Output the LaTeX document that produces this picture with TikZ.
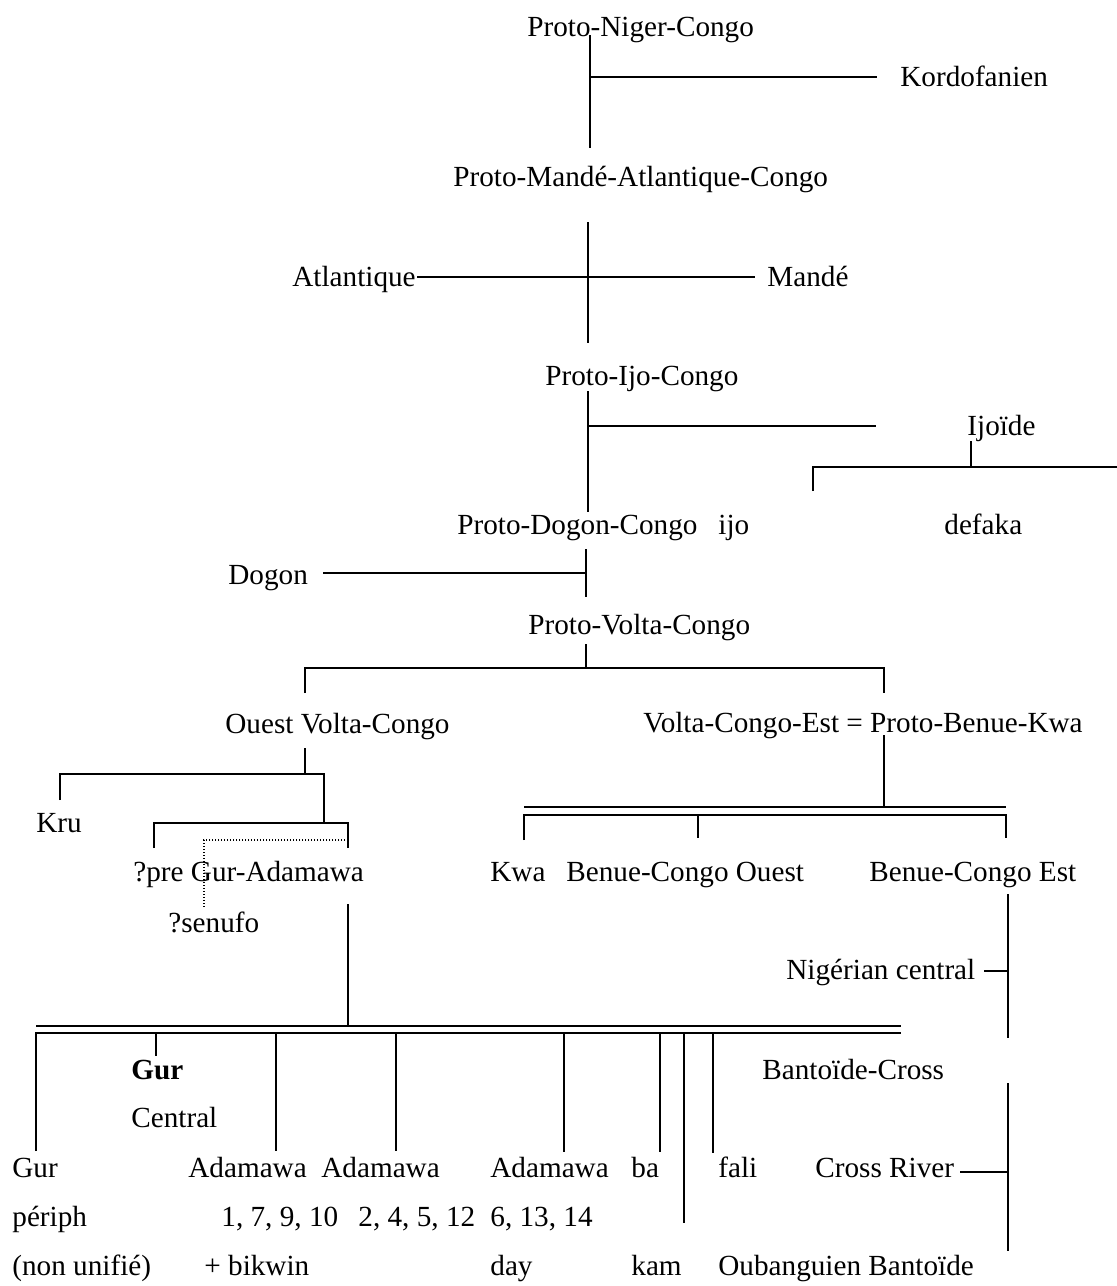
\documentclass[tikz,border=0pt]{standalone}
\usepackage{fontspec}
\setmainfont{Liberation Serif}
\begin{document}
\begin{tikzpicture}[x=0.5pt,y=-0.5pt,
  lab/.style={anchor=base west, inner sep=0pt, font=\fontsize{14.6}{17}\selectfont},
  ln/.style={line width=1pt},
  dotl/.style={line width=0.6pt, dash pattern=on 0.6pt off 0.9pt}]
\useasboundingbox (0,0) rectangle (1117,1286);
% labels
\node[lab] (png) at (527,36) {Proto-Niger-Congo};
\node[lab] (kordo) at (900,86) {Kordofanien};
\node[lab] (pmac) at (453,186) {Proto-Mandé-Atlantique-Congo};
\node[lab] (atl) at (292,286) {Atlantique};
\node[lab] (mande) at (767,286) {Mandé};
\node[lab] (pic) at (545,385) {Proto-Ijo-Congo};
\node[lab] (ijoide) at (967,435) {Ijoïde};
\node[lab] (pdc) at (457,534) {Proto-Dogon-Congo};
\node[lab] (ijo) at (718,534) {ijo};
\node[lab] (defaka) at (944,534) {defaka};
\node[lab] (dogon) at (228,584) {Dogon};
\node[lab] (pvc) at (528,634) {Proto-Volta-Congo};
\node[lab] (ovc) at (225,733) {Ouest Volta-Congo};
\node[lab] (vce) at (643,732) {Volta-Congo-Est = Proto-Benue-Kwa};
\node[lab] (kru) at (36,832) {Kru};
\node[lab] (pga) at (133,881) {?pre Gur-Adamawa};
\node[lab] (kwa) at (490,881) {Kwa};
\node[lab] (bco) at (566,881) {Benue-Congo Ouest};
\node[lab] (bce) at (869,881) {Benue-Congo Est};
\node[lab] (senufo) at (168,932) {?senufo};
\node[lab] (nig) at (786,979) {Nigérian central};
\node[lab] (gurb) at (131,1079) {\bfseries Gur};
\node[lab] (bantc) at (762,1079) {Bantoïde-Cross};
\node[lab] (central) at (131,1127) {Central};
\node[lab] (gur) at (12,1177) {Gur};
\node[lab] (ad1) at (188,1177) {Adamawa};
\node[lab] (ad2) at (321,1177) {Adamawa};
\node[lab] (ad3) at (490,1177) {Adamawa};
\node[lab] (ba) at (631,1177) {ba};
\node[lab] (fali) at (718,1177) {fali};
\node[lab] (crossr) at (815,1177) {Cross River};
\node[lab] (periph) at (12,1226) {périph};
\node[lab] (nA) at (221,1226) {1, 7, 9, 10};
\node[lab] (nB) at (358,1226) {2, 4, 5, 12};
\node[lab] (nC) at (490,1226) {6, 13, 14};
\node[lab] (nonu) at (12,1275) {(non unifié)};
\node[lab] (bikwin) at (204,1275) {+ bikwin};
\node[lab] (day) at (490,1275) {day};
\node[lab] (kam) at (631,1275) {kam};
\node[lab] (oubang) at (718,1275) {Oubanguien Bantoïde};
% coordinates
\coordinate (a1) at (590,35); \coordinate (a2) at (590,148);
\coordinate (a3) at (590,77); \coordinate (a4) at (877,77);
\coordinate (b1) at (588,222); \coordinate (b2) at (588,343);
\coordinate (b3) at (417,277); \coordinate (b4) at (755,277);
\coordinate (c1) at (588,391); \coordinate (c2) at (588,512);
\coordinate (c3) at (588,426); \coordinate (c4) at (876,426);
\coordinate (d1) at (971,441); \coordinate (d2) at (971,467);
\coordinate (d3) at (813,491); \coordinate (d4) at (813,467); \coordinate (d5) at (1117,467);
\coordinate (e1) at (586,549); \coordinate (e2) at (586,597);
\coordinate (e3) at (323,573); \coordinate (e4) at (586,573);
\coordinate (f1) at (586,644); \coordinate (f2) at (586,668);
\coordinate (f3) at (305,693); \coordinate (f4) at (305,668); \coordinate (f5) at (884,668); \coordinate (f6) at (884,693);
\coordinate (g1) at (305,748); \coordinate (g2) at (305,774);
\coordinate (g3) at (60,800); \coordinate (g4) at (60,774); \coordinate (g5) at (324,774); \coordinate (g6) at (324,823);
\coordinate (h1) at (154,848); \coordinate (h2) at (154,823); \coordinate (h3) at (348,823); \coordinate (h4) at (348,848);
\coordinate (i1) at (348,840); \coordinate (i2) at (204,840); \coordinate (i3) at (204,908);
\coordinate (j1) at (884,735); \coordinate (j2) at (884,807);
\coordinate (j3) at (524,807); \coordinate (j4) at (1006,807);
\coordinate (j5) at (524,840); \coordinate (j6) at (524,815); \coordinate (j7) at (1006,815); \coordinate (j8) at (1006,838);
\coordinate (j9) at (698,815); \coordinate (j10) at (698,838);
\coordinate (k1) at (1008,894); \coordinate (k2) at (1008,1038);
\coordinate (k3) at (984,971); \coordinate (k4) at (1008,971);
\coordinate (l1) at (348,904); \coordinate (l2) at (348,1026);
\coordinate (l3) at (36,1026); \coordinate (l4) at (901,1026);
\coordinate (l5) at (36,1151); \coordinate (l6) at (36,1033); \coordinate (l7) at (901,1033);
\coordinate (m1) at (1008,1083); \coordinate (m2) at (1008,1251);
\coordinate (m3) at (960,1172); \coordinate (m4) at (1008,1172);
% connectors
\draw[ln] (a1) -- (a2); \draw[ln] (a3) -- (a4);
\draw[ln] (b1) -- (b2); \draw[ln] (b3) -- (b4);
\draw[ln] (c1) -- (c2); \draw[ln] (c3) -- (c4);
\draw[ln] (d1) -- (d2); \draw[ln] (d3) -- (d4) -- (d5);
\draw[ln] (e1) -- (e2); \draw[ln] (e3) -- (e4);
\draw[ln] (f1) -- (f2); \draw[ln] (f3) -- (f4) -- (f5) -- (f6);
\draw[ln] (g1) -- (g2); \draw[ln] (g3) -- (g4) -- (g5) -- (g6);
\draw[ln] (h1) -- (h2) -- (h3) -- (h4);
\draw[dotl] (i1) -- (i2) -- (i3);
\draw[ln] (j1) -- (j2); \draw[ln] (j3) -- (j4);
\draw[ln] (j5) -- (j6) -- (j7) -- (j8); \draw[ln] (j9) -- (j10);
\draw[ln] (k1) -- (k2); \draw[ln] (k3) -- (k4);
\draw[ln] (l1) -- (l2); \draw[ln] (l3) -- (l4);
\draw[ln] (l5) -- (l6) -- (l7);
\foreach \x/\y in {156/1056, 276/1151, 396/1151, 564/1152, 660/1152, 684/1223, 713/1153}{
  \draw[ln] (\x,1033) -- (\x,\y);
}
\draw[ln] (m1) -- (m2); \draw[ln] (m3) -- (m4);
\end{tikzpicture}
\end{document}
